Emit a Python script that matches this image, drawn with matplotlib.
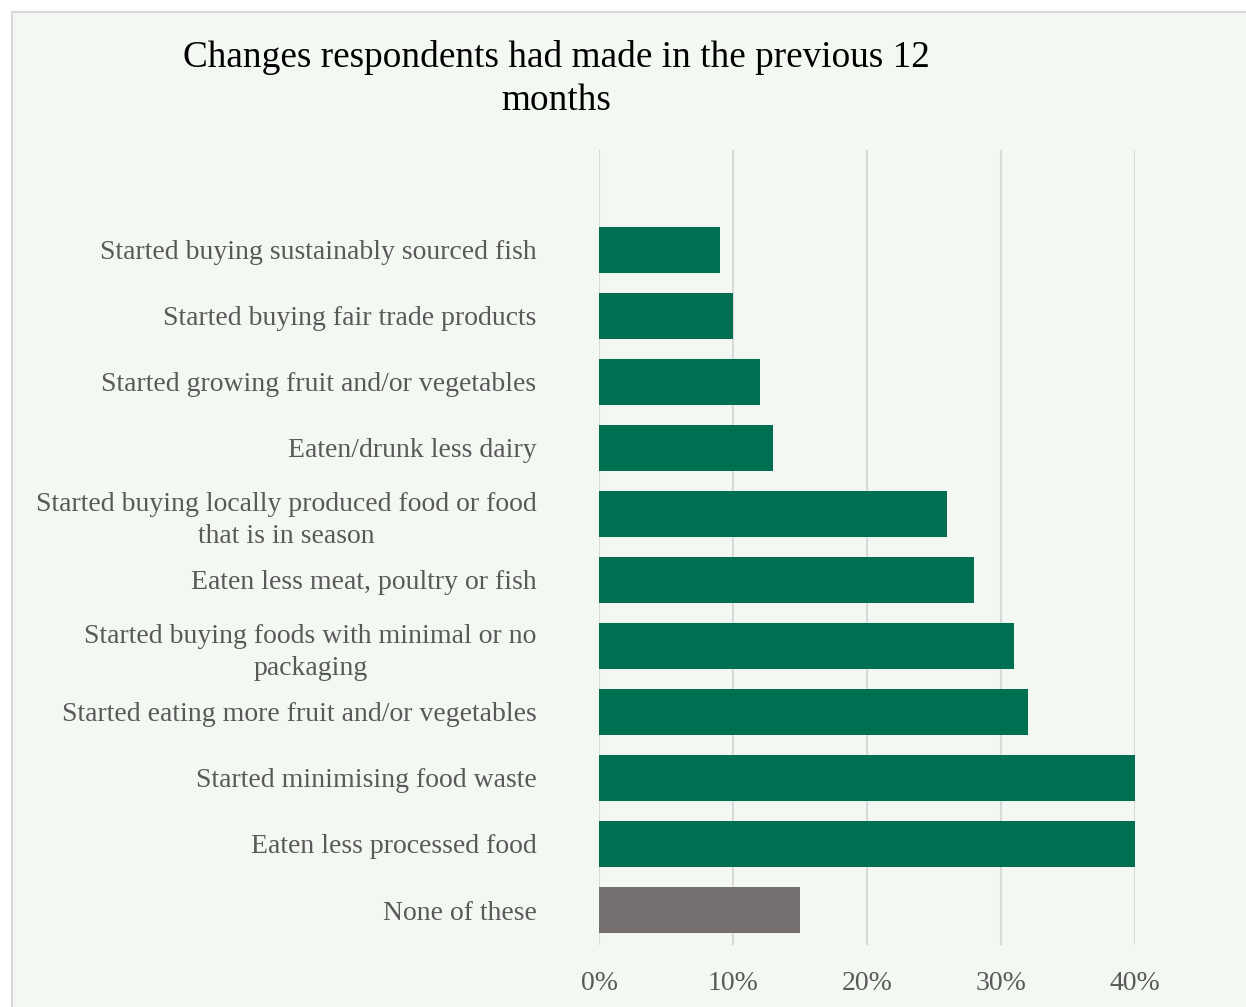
import matplotlib
matplotlib.use("Agg")
import matplotlib.pyplot as plt
from matplotlib.patches import Rectangle
from matplotlib.ticker import FuncFormatter

categories = [
    "Started buying sustainably sourced fish",
    "Started buying fair trade products",
    "Started growing fruit and/or vegetables",
    "Eaten/drunk less dairy",
    "Started buying locally produced food or food\nthat is in season",
    "Eaten less meat, poultry or fish",
    "Started buying foods with minimal or no\npackaging",
    "Started eating more fruit and/or vegetables",
    "Started minimising food waste",
    "Eaten less processed food",
    "None of these",
]
values = [9, 10, 12, 13, 26, 28, 31, 32, 40, 40, 15]
bar_colors = ["#006F51"] * 10 + ["#75706F"]
x_ticks = [0, 10, 20, 30, 40]

plt.rcParams['font.family'] = ['Liberation Serif', 'DejaVu Serif']

W, H = 1246, 1007
fig = plt.figure(figsize=(W / 100, H / 100), dpi=100)
fig.patch.set_facecolor("white")
bg = Rectangle((12 / W, -0.1), 1.2, 1.1 - 12 / H, transform=fig.transFigure,
               facecolor="#F4F8F3", edgecolor="#D9D9D9", linewidth=1.5, zorder=-5)
fig.add_artist(bg)

ax = fig.add_axes([599 / W, 1 - 945 / H, (1135 - 599) / W, (945 - 150) / H])
ax.set_zorder(2)
ax.set_facecolor("none")
y = list(range(len(categories)))
ax.barh(y, values, height=0.70, color=bar_colors, zorder=3)
ax.set_xlim(0, 40)
ax.set_ylim(10.53, -1.51)
ax.set_xticks(x_ticks)
ax.xaxis.set_major_formatter(FuncFormatter(lambda v, p: f"{int(v)}%"))
ax.grid(axis="x", color="#D9D9D9", linewidth=1.5, zorder=0)
for s in ax.spines.values():
    s.set_visible(False)
ax.tick_params(axis="x", length=0, pad=19, labelsize=20, labelcolor="#595959")
ax.tick_params(axis="y", length=0, pad=45, labelsize=20, labelcolor="#595959")
ax.set_yticks(y)
ax.set_yticklabels(categories, multialignment="center", linespacing=1.4)

fig.text(556 / W, 1 - 79 / H, "Changes respondents had made in the previous 12\nmonths",
         ha="center", va="center", fontsize=26.8, color="black", linespacing=1.35, zorder=5)

fig.savefig("out.png", dpi=100, facecolor=fig.get_facecolor())
